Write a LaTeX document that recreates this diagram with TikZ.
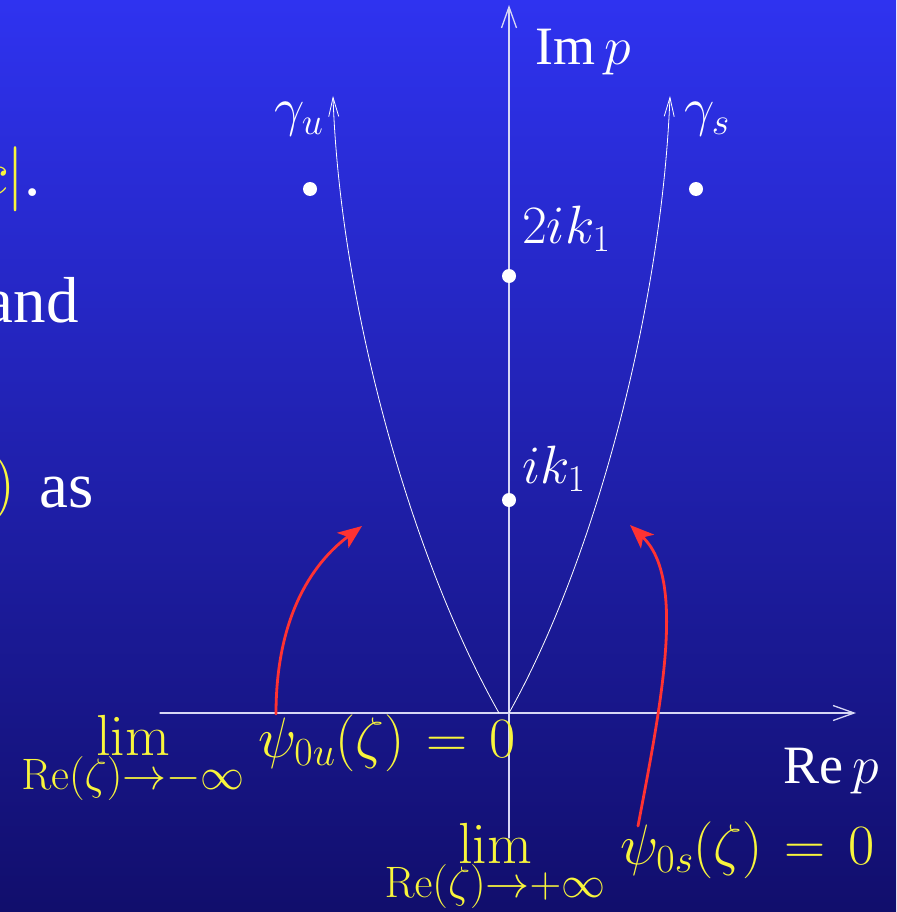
\RequirePackage{fix-cm}
\documentclass[tikz,border=0pt]{standalone}
\usepackage[no-math]{fontspec}
\setmainfont{Liberation Serif}
\usetikzlibrary{arrows.meta}

\DeclareMathSizes{58}{58}{44}{32}

\definecolor{slidetop}{RGB}{47,51,240}
\definecolor{slidebot}{RGB}{17,14,108}
\definecolor{hiyellow}{RGB}{248,245,60}
\definecolor{arrowred}{RGB}{255,50,50}
\definecolor{axisgray}{RGB}{215,215,245}

\tikzset{
    axisline/.style={draw=axisgray, line width=1.3pt, -{Straight Barb[length=21pt,width=15pt]}},
    contourline/.style={draw=white, line width=0.8pt, -{Straight Barb[length=19pt,width=10pt]}},
    redarrow/.style={draw=arrowred, line width=2.8pt, -{Stealth[length=24pt,width=19pt,inset=6pt]}},
    poledot/.style={fill=white},
    lbl/.style={text=white, inner sep=0pt, font=\fontsize{54}{60}\selectfont},
    hilbl/.style={text=hiyellow, inner sep=0pt, font=\fontsize{57}{62}\selectfont},
    limlbl/.style={text=hiyellow, inner sep=0pt, font=\fontsize{58}{64}\selectfont},
    bigtxt/.style={text=white, inner sep=0pt, font=\fontsize{65}{72}\selectfont}
}

\begin{document}
\begin{tikzpicture}[line join=round, line cap=round, x=1pt, y=-1pt]

    % Slide background
    \clip (0,0) rectangle (896,912);
    \shade[top color=slidetop, bottom color=slidebot] (0,0) rectangle (896,912);

    % Define origin and axis end points
    \coordinate (O) at (509,713);
    \coordinate (XL) at (160,713);
    \coordinate (XR) at (856,713);
    \coordinate (YB) at (509,838);
    \coordinate (YT) at (509,5);

    % Define contour end points
    \coordinate (GUstart) at (499,713);
    \coordinate (GUend) at (333,96);
    \coordinate (GSstart) at (509,713);
    \coordinate (GSend) at (670,96);

    % Define poles
    \coordinate (PU) at (310,189);
    \coordinate (PS) at (696,189);
    \coordinate (P2) at (509,276);
    \coordinate (P1) at (509,500);

    % Define red arrow ends
    \coordinate (RUstart) at (276,714);
    \coordinate (RUend) at (362,526);
    \coordinate (RSstart) at (638,826);
    \coordinate (RSend) at (630,525);

    % 1. Cut-off slide text on the left
    \node[bigtxt, anchor=base east] (cbar) at (41,196) {\textcolor{hiyellow}{$c|$}.};
    \node[bigtxt, anchor=base east] (andtxt) at (79,322) {and};
    \node[bigtxt, anchor=base east, text=hiyellow] (paren) at (16,504) {$)$};
    \node[bigtxt, anchor=base west] (astxt) at (39,507) {as};

    % 2. Axes
    \draw[axisline] (XL) -- (XR);
    \draw[axisline] (YB) -- (YT);

    % 3. Contours gamma_u and gamma_s
    \draw[contourline] (GUstart) .. controls (409,554) and (340,300) .. (GUend);
    \draw[contourline] (GSstart) .. controls (598,554) and (662,300) .. (GSend);

    % 4. Poles
    \fill[poledot] (PU) circle (7pt);
    \fill[poledot] (PS) circle (7pt);
    \fill[poledot] (P2) circle (7pt);
    \fill[poledot] (P1) circle (7pt);

    % 5. Labels
    \node[lbl, anchor=base west] (imlbl) at (535,65) {Im\,$p$};
    \node[lbl, anchor=base west] (relbl) at (783,783) {Re\,$p$};
    \node[lbl, anchor=base] (gulbl) at (299,126) {$\gamma_u$};
    \node[lbl, anchor=base] (gslbl) at (707,126) {$\gamma_s$};
    \node[lbl, anchor=base west] (twoik) at (522,243) {$2ik_1$};
    \node[lbl, anchor=base west] (oneik) at (522,483) {$ik_1$};

    % Limits (yellow)
    \node[hilbl, anchor=base west] (psiu) at (258,757) {$\psi_{0u}(\zeta)\mskip2mu=\mskip2mu0$};
    \node[limlbl, anchor=base] (limminus) at (133,755) {$\displaystyle\lim_{\mathrm{Re}(\zeta)\to-\infty}$};
    \node[hilbl, anchor=base west] (psis) at (620,864) {$\psi_{0s}(\zeta)\mskip2mu=\mskip2mu0$};
    \node[limlbl, anchor=base] (limplus) at (495,863) {$\displaystyle\lim_{\mathrm{Re}(\zeta)\to+\infty}$};

    % 6. Red arrows
    \draw[redarrow] (RUstart) .. controls (276,620) and (310,565) .. (RUend);
    \draw[redarrow] (RSstart) .. controls (662,700) and (686,578) .. (RSend);

\end{tikzpicture}
\end{document}
